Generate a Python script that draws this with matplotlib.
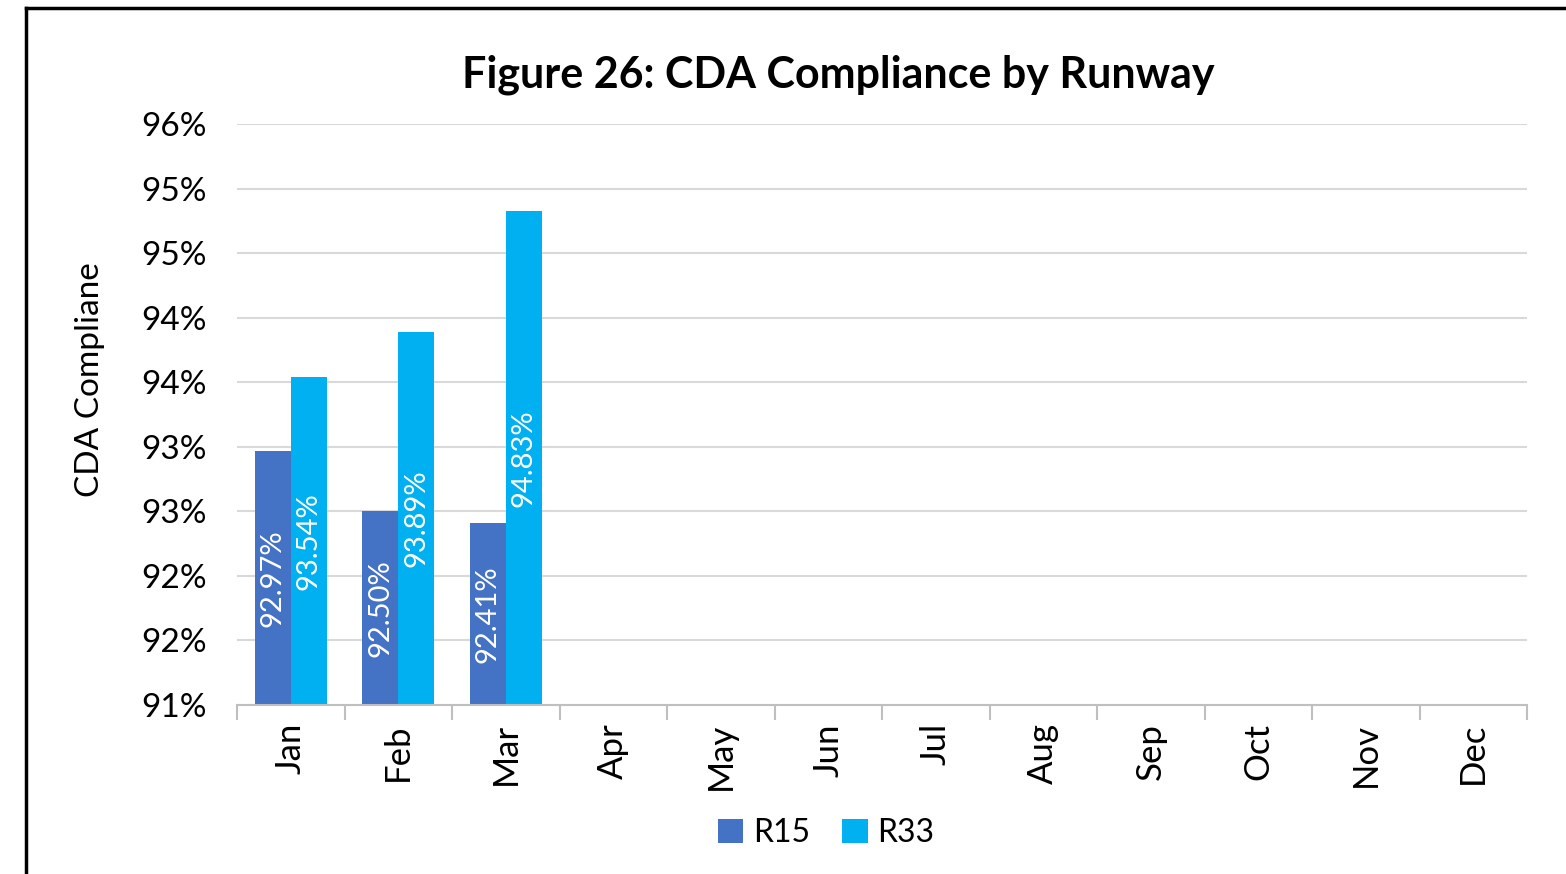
import matplotlib.pyplot as plt
import numpy as np
from matplotlib.lines import Line2D

plt.rcParams['font.family'] = ['Lato', 'DejaVu Sans']

months = ["Jan", "Feb", "Mar", "Apr", "May", "Jun", "Jul", "Aug", "Sep", "Oct", "Nov", "Dec"]
r15 = [92.97, 92.50, 92.41]
r33 = [93.54, 93.89, 94.83]
yticks = [91.0, 91.5, 92.0, 92.5, 93.0, 93.5, 94.0, 94.5, 95.0, 95.5]
ytick_labels = ["91%", "92%", "92%", "93%", "93%", "94%", "94%", "95%", "95%", "96%"]

c15 = "#4472C4"
c33 = "#00B0F0"

fig = plt.figure(figsize=(15.66, 8.74), dpi=100)
ax = fig.add_axes([237 / 1566, 1 - 705 / 874, 1290 / 1566, 581 / 874])

x = np.arange(len(months))
w = 0.335
base = 91.0
b1 = ax.bar(x[:len(r15)] - w / 2, np.array(r15) - base, w, bottom=base, color=c15, label="R15")
b2 = ax.bar(x[:len(r33)] + w / 2, np.array(r33) - base, w, bottom=base, color=c33, label="R33")

for bars, vals in ((b1, r15), (b2, r33)):
    for b, v in zip(bars, vals):
        ax.text(b.get_x() + b.get_width() / 2, (base + v) / 2, f"{v:.2f}%",
                rotation=90, ha="center", va="center", color="white", fontsize=21)

ax.set_xlim(-0.5, len(months) - 0.5)
ax.set_ylim(91.0, 95.5)
ax.set_yticks(yticks)
ax.set_yticklabels(ytick_labels, fontsize=24)
ax.set_xticks(x)
ax.set_xticklabels(months, rotation=90, fontsize=25)
ax.tick_params(axis="y", length=0, pad=22)
ax.tick_params(axis="x", length=0, pad=13)
ax.set_xticks(np.arange(-0.5, len(months)), minor=True)
ax.tick_params(axis="x", which="minor", length=11, color="#BFBFBF", width=1.5)
ax.grid(axis="y", color="#D9D9D9", linewidth=1.5)
ax.set_axisbelow(True)
for s in ["top", "right", "left"]:
    ax.spines[s].set_visible(False)
ax.spines["bottom"].set_color("#BFBFBF")
ax.spines["bottom"].set_linewidth(1.5)

fig.text(90 / 1566, 1 - 380 / 874, "CDA Compliane", rotation=90,
         ha="center", va="center", fontsize=24)
fig.text(838 / 1566, 1 - 75 / 874, "Figure 26: CDA Compliance by Runway",
         ha="center", va="center", fontsize=31, fontweight="bold")

fig.legend(handles=[b1, b2], loc="center", bbox_to_anchor=(826 / 1566, 1 - 833 / 874),
           ncol=2, frameon=False, fontsize=23, handlelength=0.8, handleheight=0.8,
           handletextpad=0.3, columnspacing=1.0)

# outer chart border
fig.add_artist(Line2D([26 / 1566, 26 / 1566], [0, 1 - 8 / 874], color="black", lw=2.5,
                      transform=fig.transFigure))
fig.add_artist(Line2D([26 / 1566, 1], [1 - 8 / 874, 1 - 8 / 874], color="black", lw=2.5,
                      transform=fig.transFigure))

fig.savefig("out.png", dpi=100)
